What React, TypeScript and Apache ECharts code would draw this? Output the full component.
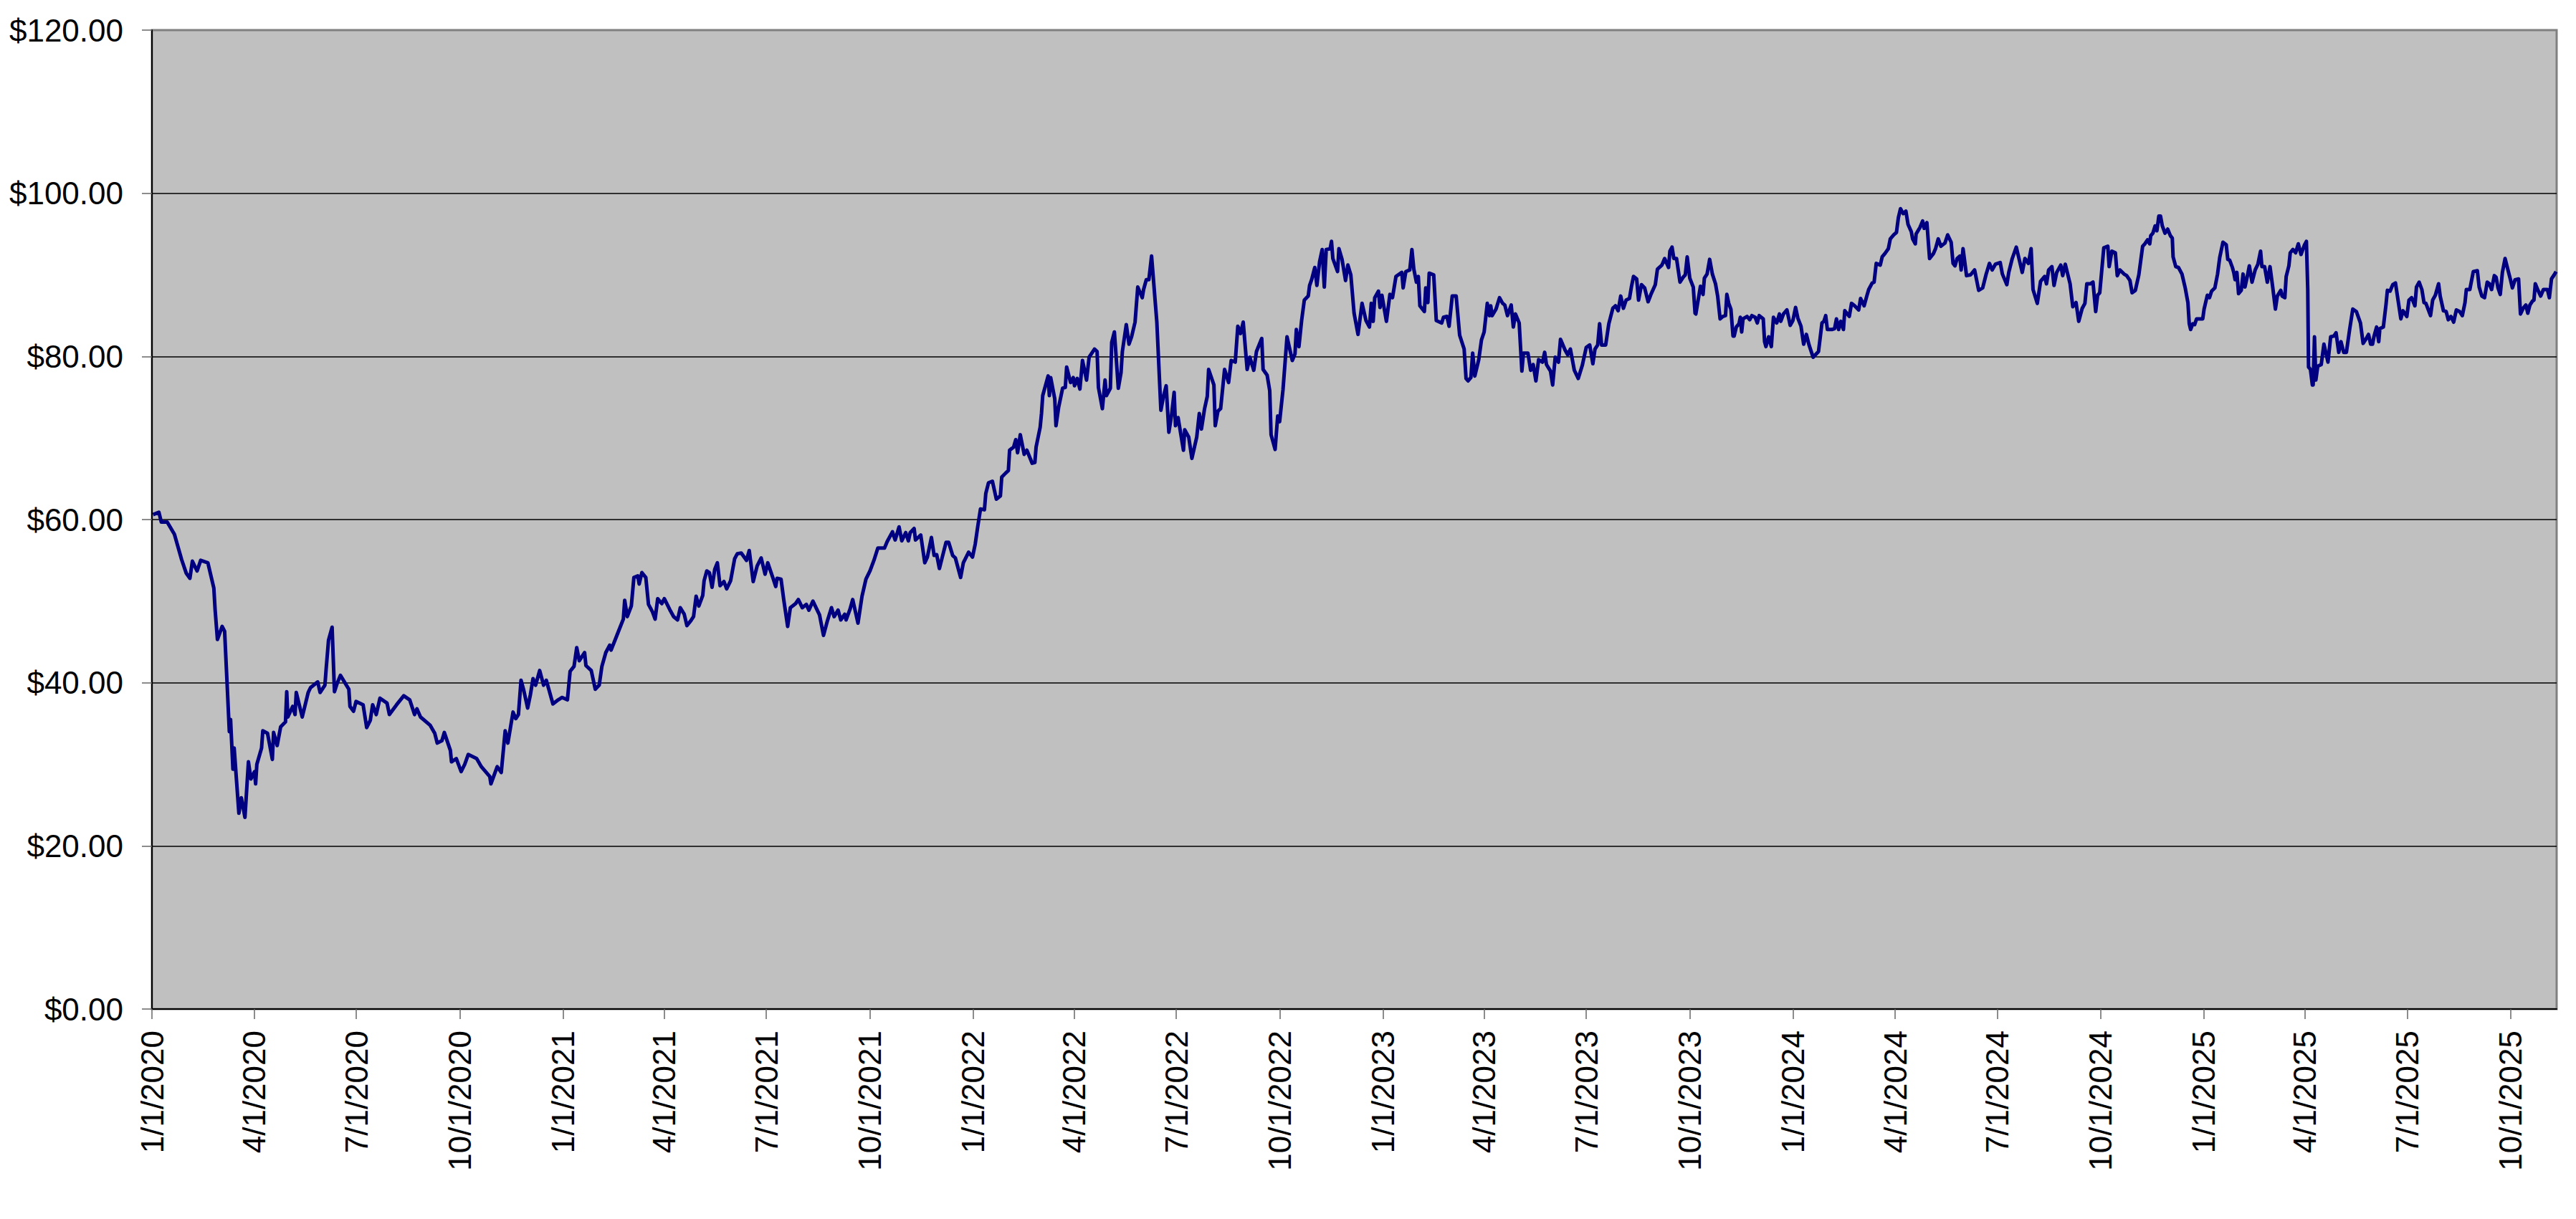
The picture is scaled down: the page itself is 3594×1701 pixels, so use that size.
import React, { useEffect, useRef } from "react";
import * as echarts from "echarts";

// Daily closes: [days since 1/1/2020, price in $]
const closes: [number, number][] = [
  [1,60.6],[6.2,60.9],[8.3,59.7],[13.6,59.7],[20,58.2],[26.4,55.1],[30.6,53.4],[33.8,52.8],[36,54.9],[40.2,53.7],[43.4,55.0],[49.8,54.7],[55.1,51.6],[56.2,49.0],[58.3,45.3],[62.5,46.9],[64.7,46.3],[66.8,40.2],[68.9,34.0],[70,35.5],[72.1,29.4],[73.2,32.0],[75.3,28.0],[77.4,24.0],[79.6,25.9],[82.8,23.5],[85.9,30.3],[88.1,28.2],[91.3,29.1],[92.3,27.6],[93.4,30.0],[97.6,32.0],[98.7,34.1],[102.9,33.8],[107.2,30.6],[108.3,33.9],[111.5,32.3],[114.6,34.6],[118.9,35.2],[120,38.9],[121,35.8],[125.3,37.1],[127.4,36.1],[128.5,38.8],[133.8,35.8],[139.1,38.8],[141.2,39.4],[147.6,40.1],[149.7,38.8],[154,39.7],[155.1,41.7],[157.2,45.2],[160.4,46.8],[162.5,38.9],[164.6,39.8],[167.8,40.9],[175.3,39.2],[176.3,37.1],[179.5,36.5],[181.7,37.7],[188,37.3],[191.2,34.5],[194.4,35.4],[196.5,37.3],[199.7,36.1],[203,38.1],[209.3,37.5],[211.4,36.1],[217.8,37.3],[224.2,38.4],[229.5,37.9],[233.8,36.1],[235.9,36.8],[239.1,35.8],[247.6,34.8],[251.8,33.8],[254,32.6],[258.2,32.9],[260.3,33.9],[265.7,31.7],[266.7,30.3],[271,30.7],[275.3,29.1],[278.5,30.0],[281.6,31.2],[289.1,30.7],[293.3,29.7],[300.8,28.5],[301.8,27.6],
  [305,28.8],[307.4,29.7],[311,29.0],[314.5,34.1],[316.9,32.6],[321.5,36.4],[323.9,35.6],[326.3,36.1],[328.6,40.3],[331,39.1],[334.5,36.9],[336.9,38.5],[339.3,40.5],[341.6,39.7],[345.2,41.5],[348.7,39.7],[351.1,40.3],[357,37.4],[361.7,37.9],[365.2,38.2],[369.9,37.9],[372.3,41.4],[375.8,42.0],[378.2,44.3],[380.5,42.7],[385.2,43.7],[386.4,42.1],[391.1,41.5],[394.7,39.2],[398.2,39.7],[400.6,42.0],[404.1,43.7],[407.6,44.6],[408.8,44.0],[414.8,46.1],[419.7,47.8],[420.9,50.1],[423.2,48.1],[426.8,49.4],[429.1,52.9],[432.6,53.1],[433.8,52.1],[436.2,53.5],[439.7,52.9],[442.1,49.6],[445.6,48.7],[448,47.8],[450.3,50.3],[453.9,49.7],[456.2,50.3],[460.9,49.0],[464.5,48.1],[468,47.7],[470.4,49.2],[473.9,48.4],[476.3,47.0],[479.8,47.6],[482.2,48.1],[484.5,50.6],[486.9,49.4],[490.4,50.7],[491.6,52.5],[494,53.7],[496.3,53.5],[498.7,51.7],[501.1,53.9],[503.4,54.7],[505.8,51.9],[509.3,52.4],[511.7,51.5],[515.2,52.5],[518.8,55.2],[521.1,55.8],[524.7,55.9],[529.4,55.0],[531.8,56.2],[535.3,52.4],[538.8,54.3],[542.4,55.3],[545.9,53.3],[548.3,54.7],[553,52.8],[555.4,51.8],[556.6,52.8],[560.1,52.7],[562.5,50.2],[566,46.9],[568.4,49.2],[573.1,49.7],[575.5,50.2],[579,49.2],[582.6,49.6],[584.9,48.9],[588.5,50.0],[594.4,48.3],[597.9,45.8],[601.4,47.6],[605,49.2],[607.4,48.1],[610.9,48.9],[613.3,47.7],[616.8,48.4],[618,47.7],[621.5,49.0],[623.9,50.2],[628.6,47.3],[632.2,50.6],[635.7,52.7],[639.3,53.7],[642.8,55.0],[646.3,56.5],[652.2,56.5],[654.6,57.3],[659.3,58.5],[661.7,57.5],[665.2,59.1],[667.6,57.4],[671.1,58.4],[673.5,57.4],
  [675.1,58.4],[678.6,58.9],[679.8,57.5],[684.5,58.1],[688.1,54.7],[690.4,55.4],[694,57.8],[696.4,55.6],[698.7,55.7],[701.1,54.0],[703.5,55.3],[707,57.2],[709.4,57.2],[712.9,55.6],[715.3,55.3],[720,52.9],[722.4,54.7],[727.1,56.0],[730.6,55.4],[733,57.0],[735.3,59.2],[737.7,61.3],[741.2,61.2],[742.4,63.2],[744.8,64.5],[748.3,64.7],[751.8,62.5],[755.4,62.9],[756.6,65.2],[760.1,65.7],[762.5,66.0],[763.6,68.5],[767.2,68.9],[769.1,69.8],[770.7,68.2],[773.1,70.4],[776.6,68.0],[779,68.5],[783.7,66.9],[786.1,67.0],[787.2,68.9],[790.8,71.3],[792,73.0],[793.1,75.2],[797.9,77.6],[799,75.2],[800.2,77.4],[803.8,74.8],[804.9,71.5],[807.3,73.8],[810.8,76.1],[813.2,76.2],[814.4,78.7],[817.9,76.8],[820.3,77.4],[821.4,76.4],[823.8,77.3],[826.2,76.0],[828.5,79.5],[832.1,77.1],[834.4,79.9],[839.2,80.9],[841.5,80.6],[842.7,76.2],[846.2,73.6],[848.6,77.1],[849.8,75.2],[853.3,76.1],[854.5,81.7],[856.9,83.0],[860.4,76.1],[862.8,78.0],[864,80.6],[867.5,83.9],[869.9,81.5],[872.2,82.4],[875.3,84.2],[877.7,88.5],[881.7,87.2],[882.9,88.2],[885.3,89.4],[887.6,89.4],[890,92.3],[894.7,84.2],[898.3,73.4],[900.6,75.1],[903,76.4],[905.4,70.7],[907.7,72.7],[910.1,75.6],[911.3,71.5],[913.6,72.5],[918.4,68.5],[919.5,71.0],[923.1,70.1],[925.9,67.5],[930.2,70.1],[932.5,73.0],[934.4,71.1],[937.2,73.6],[939.6,75.1],[940.8,78.4],[945.5,76.5],[946.7,71.5],[949.1,73.3],[951.5,73.6],[955,78.4],[958.6,76.8],[960.9,79.5],[964.5,79.3],[966.8,83.7],[969.2,82.8],[971.6,84.2],[975.1,78.4],[977.5,79.9],[981,78.3],[983.4,80.6],[988.1,82.2],[989.3,78.4],[992.9,77.7],[995.2,75.8],[996.4,70.4],[1000,68.6],[1002.3,72.7],[1004,72.0],[1007,75.9],[1010.6,82.4],[1015.3,79.5],[1017.7,80.3],[1018.9,83.3],[1021.2,81.2],[1023.6,84.4],[1026,86.9],[1029.5,87.4],[1030.7,88.7],
  [1032.5,89.4],[1035.3,90.9],[1037.2,88.7],[1039.6,91.6],[1041.9,93.1],[1043.8,88.5],[1045.5,93.1],[1049,93.2],[1050.2,94.1],[1051.4,92.0],[1055.6,90.4],[1056.8,93.2],[1059.6,91.9],[1062.7,89.3],[1064.8,91.2],[1067.4,90.0],[1070.3,85.3],[1073.8,82.7],[1077.4,86.5],[1080.9,84.4],[1084,83.6],[1085.6,86.5],[1087.3,84.3],[1088.7,87.2],[1092,88.0],[1093.4,86.0],[1095.1,87.5],[1099.1,84.3],[1102.2,87.6],[1104.5,87.2],[1107.6,89.8],[1112.8,90.3],[1114,88.4],[1116.4,90.4],[1119.9,90.6],[1121.8,93.1],[1123.5,90.7],[1125.8,89.1],[1127.5,89.8],[1128.9,86.2],[1132.9,85.5],[1134.1,88.4],[1136,86.6],[1137.2,90.2],[1141.2,90.0],[1143.5,84.4],[1148.3,84.1],[1149.9,84.8],[1153,84.9],[1154.9,83.7],[1157.7,87.4],[1161.2,87.4],[1164.3,82.6],[1168.3,80.9],[1170,77.3],[1171.8,77.0],[1174.3,77.4],[1175.9,80.4],[1177.8,77.6],[1181.3,79.6],[1183.7,82.0],[1186.1,83.0],[1188.9,86.5],[1190.8,85.0],[1192,86.2],[1193.2,85.0],[1196.7,85.8],[1199.8,87.2],[1202.6,86.5],[1204.5,86.3],[1206.9,85.0],[1210.2,86.3],[1212.1,83.6],[1214,85.2],[1217.3,84.1],[1219.7,78.2],[1221.1,80.4],[1225.1,80.4],[1227.5,78.3],[1229.8,79.0],[1232.2,77.0],[1234.6,79.6],[1238.1,79.3],[1240,80.5],[1241.6,79.0],[1245.2,78.2],[1247.1,76.5],[1249.4,79.9],[1252.3,79.3],[1254.1,82.1],[1258.1,80.8],[1260.5,80.2],[1262.9,80.9],[1266.4,78.3],[1269.9,77.3],[1273.5,78.9],[1277,81.1],[1280.1,81.4],[1282.9,79.1],[1284.8,80.9],[1287.2,81.4],[1288.9,84.0],[1290.7,81.4],[1294.3,81.4],[1297.1,84.0],[1300.7,85.9],[1303,86.2],[1305.4,85.6],[1307.7,87.4],[1310.1,85.9],[1312.5,86.9],[1315.5,87.1],[1317.2,88.5],[1319.1,89.8],[1321.9,89.5],[1323.6,86.9],[1326.2,88.8],[1329,88.4],[1332.1,86.7],[1334.9,87.7],[1338.5,88.8],[1340.4,90.7],[1344.4,91.2],[1346.8,92.0],[1350.3,90.9],[1351.5,92.9],[1353.4,93.4],[1355,92.0],[1357.4,92.0],[1360.5,89.1],[1363.3,89.7],[1365.2,90.0],[1366.9,92.2],[1369.2,89.6],[1372.3,88.5],[1373.9,85.3],[1374.6,85.2],[1378.7,88.6],[1381,87.6],[1382.2,89.6],[1384.6,90.1],[1386.9,91.9],[1389.3,90.1],[1392.1,88.9],[1394,87.4],
  [1396.2,84.6],[1398.6,84.9],[1401,85.0],[1402.2,87.6],[1403.9,86.5],[1405.8,85.8],[1407.7,82.5],[1408.7,82.5],[1410.6,83.6],[1413,84.0],[1414.2,84.8],[1415.4,83.0],[1416.6,84.6],[1420.2,84.9],[1422.6,84.5],[1424.5,85.0],[1427.4,84.8],[1429.3,84.1],[1431,85.0],[1434.6,84.6],[1435.8,81.8],[1437,81.2],[1439.4,82.4],[1441.8,81.2],[1443.7,84.8],[1446.6,84.1],[1449,85.2],[1450.2,84.3],[1452.6,85.2],[1455.7,85.7],[1458.6,83.8],[1461,84.4],[1463.4,86.0],[1465.4,84.7],[1468.2,83.7],[1470.6,81.5],[1473,82.7],[1475.4,81.4],[1479,79.9],[1483.8,80.6],[1486.9,84.1],[1488.6,84.3],[1490.2,85.0],[1491.7,83.3],[1495.7,83.3],[1498.1,83.4],[1499.8,84.6],[1501.7,83.3],[1503.6,84.3],[1506,83.3],[1507.2,85.6],[1511.2,84.9],[1513.2,86.5],[1516,86.2],[1519.6,85.7],[1521.3,87.1],[1524.4,86.2],[1526.8,87.4],[1528.5,88.2],[1531.6,89.0],[1533.3,89.1],[1535.2,91.4],[1538.8,91.2],[1540.5,92.2],[1542.9,92.6],[1546,93.2],[1547.7,94.4],[1550.8,94.9],[1553.2,95.2],[1554.9,97.0],[1556.8,98.1],[1559.2,97.5],[1561.6,97.8],[1563.5,96.2],[1566.4,95.3],[1567.6,94.4],[1570,93.8],[1570.7,95.0],[1574.1,95.8],[1576.5,96.6],[1577.9,95.7],[1580.3,96.4],[1582.7,92.0],[1586.1,92.6],[1588,93.2],[1590.4,94.4],[1592.8,93.5],[1596.4,93.9],[1598.8,94.9],[1601.9,94.0],[1603.6,91.4],[1605.3,91.1],[1607.2,92.0],[1609.6,92.3],[1610.8,90.6],[1612.5,93.2],[1615.6,89.9],[1619.2,90.0],[1622.8,90.6],[1626.4,88.1],[1630,88.4],[1633.1,90.1],[1636,91.4],[1638.4,90.6],[1641.3,91.3],[1645.6,91.5],[1647.5,90.1],[1651.5,88.8],[1653.2,90.3],[1656.3,92.0],[1659.9,93.4],[1662.3,92.0],[1665.2,90.3],[1667.6,92.0],[1670.7,91.4],[1673.1,93.2],[1674.8,88.2],[1678.6,86.5],[1681.5,89.2],[1685.1,89.8],[1686.8,88.9],[1688.7,90.6],[1691.6,91.0],[1693.5,88.7],[1695.9,90.3],[1699.5,91.2],[1701.2,89.9],[1703.5,91.3],[1707.8,88.9],[1710.2,86.1],[1713.1,86.6],[1715.5,84.3],[1718.6,85.9],[1721,86.5],[1722.7,88.9],[1725.8,88.9],[1728.2,89.1],[1730.6,85.5],[1732.3,87.5],[1734.2,87.8],[1736.1,90.7],[1737.8,93.3],[1741.4,93.5],[1742.6,91.0],[1745,92.9],[1748.1,92.7],[1749.8,89.9],[1752.2,90.6],[1755.8,90.1],[1758.2,89.9],[1761.1,89.3],[1763,87.8],[1765.9,88.1],[1769,90.0],
  [1772.4,93.5],[1774.4,93.8],[1776.8,94.3],[1778.7,93.8],[1779.6,94.8],[1781.5,95.1],[1783.5,96.0],[1785.1,95.4],[1786.8,97.2],[1788.3,97.2],[1789.9,96.0],[1792.3,95.1],[1794.7,95.6],[1797.1,94.8],[1798.8,94.5],[1799.5,92.2],[1801.9,91.0],[1804.3,90.9],[1807.4,90.1],[1810.3,88.4],[1812.7,86.6],[1813.9,84.0],[1815.1,83.3],[1817,84.0],[1818.7,83.9],[1820.4,84.6],[1825.9,84.6],[1827.1,85.8],[1830,87.5],[1831.9,87.2],[1833.8,88.0],[1836.7,88.4],[1839.1,90.1],[1841,92.1],[1843.9,94.0],[1846.8,93.7],[1848.2,91.9],[1849.9,91.8],[1852.3,90.9],[1853.5,90.3],[1854.7,89.4],[1856.3,90.3],[1857.8,87.7],[1860.2,88.1],[1861.8,90.1],[1863.5,88.5],[1865.4,89.7],[1867.4,91.1],[1869.8,89.1],[1872.6,90.6],[1875,91.3],[1877.4,92.9],[1878.6,91.0],[1881,91.0],[1883.4,89.1],[1885.8,91.0],[1888.2,88.5],[1890.6,85.8],[1892.3,87.4],[1895.4,88.1],[1896.6,87.4],[1899,87.2],[1900.2,89.8],[1902.6,91.1],[1903.8,92.7],[1906.2,93.1],[1908.6,92.7],[1911,93.8],[1913.4,92.5],[1916.3,93.6],[1918.2,94.1],[1919.4,88.2],[1920.1,78.7],[1921.8,78.4],[1923.5,76.5],[1924.2,76.5],[1925.4,82.4],[1926.6,77.1],[1928.3,78.8],[1931.4,79.0],[1933.8,81.5],[1937.4,79.3],[1939.8,82.4],[1942.7,82.5],[1944.6,82.9],[1947,80.5],[1949,81.8],[1951.4,80.5],[1953.8,80.5],[1956.7,83.3],[1959.5,85.8],[1962.7,85.5],[1966.3,84.1],[1968.7,81.6],[1971.1,82.1],[1973.5,82.7],[1975.4,81.5],[1977.1,81.5],[1978.3,82.4],[1980.7,83.6],[1982.6,81.8],[1983.6,83.4],[1986.7,83.6],[1989.1,86.4],[1990.3,88.1],[1992.7,88.0],[1995.1,88.8],[1997.5,89.0],[1999.9,86.8],[2002.3,84.6],[2004.2,85.6],[2007.6,84.9],[2009.5,86.9],[2011.9,87.2],[2014.8,86.2],[2016.2,88.5],[2018.6,89.1],[2021,88.2],[2022.9,86.6],[2024.6,86.5],[2028.7,85.0],[2030.6,86.9],[2033,87.5],[2035.9,88.9],[2037.3,87.4],[2040.2,85.6],[2042.6,85.5],[2044.5,84.5],[2046.9,84.9],[2049.3,84.2],[2051.7,85.7],[2054.6,85.5],[2057,85.0],[2059.4,86.6],[2060.6,88.2],[2063.7,88.2],[2066.8,90.4],[2070.4,90.5],[2072,88.5],[2074.4,87.4],[2076.8,87.2],[2079.2,89.1],[2081.1,88.9],[2083.1,88.2],[2085.5,89.9],[2087.1,89.7],[2088.8,88.4],[2090.8,87.6],[2092.7,90.3],[2095.1,92.0],[2098,90.4],[2099.9,89.4],[2101.6,88.4],[2104,89.4],[2107.1,89.5],[2108.8,85.2],[2111.2,85.9],[2113.6,86.3],[2115.3,85.3],[2117.2,86.3],[2119.6,86.8],[2120.8,86.9],[2122,88.9],[2124.4,88.1],[2126.8,87.4],[2129.2,88.2],[2132.8,88.2],[2134.5,87.2],[2136.4,89.5],[2138.8,90.0],[2140.5,90.4],
];

const tickLabels: string[] = [
  "1/1/2020", "4/1/2020", "7/1/2020", "10/1/2020",
  "1/1/2021", "4/1/2021", "7/1/2021", "10/1/2021",
  "1/1/2022", "4/1/2022", "7/1/2022", "10/1/2022",
  "1/1/2023", "4/1/2023", "7/1/2023", "10/1/2023",
  "1/1/2024", "4/1/2024", "7/1/2024", "10/1/2024",
  "1/1/2025", "4/1/2025", "7/1/2025", "10/1/2025",
];

const axisStartLabel = "1/1/2020";
const axisEndLabel = "11/11/2025";
const yTicks: number[] = [0, 20, 40, 60, 80, 100, 120];

function dayOffset(label: string): number {
  const [m, d, y] = label.split("/").map(Number);
  const [m0, d0, y0] = axisStartLabel.split("/").map(Number);
  return Math.round((Date.UTC(y, m - 1, d) - Date.UTC(y0, m0 - 1, d0)) / 86400000);
}

const tickDays = tickLabels.map(dayOffset);
const labelByDay: Record<number, string> = {};
tickLabels.forEach((l, i) => { labelByDay[tickDays[i]] = l; });

const FONT = "'Liberation Sans', Arial, Helvetica, sans-serif";

export default function App() {
  const ref = useRef<HTMLDivElement>(null);
  useEffect(() => {
    if (!ref.current) return;
    const chart = echarts.init(ref.current, undefined, { renderer: "svg" });
    chart.setOption({
      animation: false,
      backgroundColor: "#ffffff",
      grid: {
        left: 212, right: 27, top: 42, bottom: 293,
        show: true, backgroundColor: "#C0C0C0", borderColor: "#808080", borderWidth: 3,
      },
      xAxis: {
        type: "value",
        min: 0,
        max: dayOffset(axisEndLabel),
        axisLine: { show: true, onZero: false, lineStyle: { color: "#000000", width: 2 } },
        axisTick: { show: true, length: 14, inside: false, customValues: tickDays, lineStyle: { color: "#666666", width: 1.5 } },
        axisLabel: {
          show: true, rotate: 90, margin: 30, customValues: tickDays,
          fontSize: 44, fontFamily: FONT, color: "#000000",
          formatter: (v: number) => labelByDay[Math.round(v)] ?? "",
        },
        splitLine: { show: false },
      },
      yAxis: {
        type: "value",
        min: yTicks[0],
        max: yTicks[yTicks.length - 1],
        interval: 20,
        axisLine: { show: true, lineStyle: { color: "#000000", width: 2 } },
        axisTick: { show: true, length: 14, lineStyle: { color: "#666666", width: 1.5 } },
        axisLabel: {
          margin: 40, fontSize: 44, fontFamily: FONT, color: "#000000",
          formatter: (v: number) => "$" + v.toFixed(2),
        },
        splitLine: { show: true, showMinLine: false, showMaxLine: false, lineStyle: { color: "#000000", width: 1.5 } },
      },
      series: [
        {
          type: "line",
          data: closes,
          showSymbol: false,
          symbol: "none",
          lineStyle: { color: "#000080", width: 5, join: "round" },
          z: 3,
        },
      ],
    });
    return () => chart.dispose();
  }, []);
  return (
    <div
      ref={ref}
      style={{ position: "absolute", left: 0, top: 0, width: 3594, height: 1701 }}
    />
  );
}
